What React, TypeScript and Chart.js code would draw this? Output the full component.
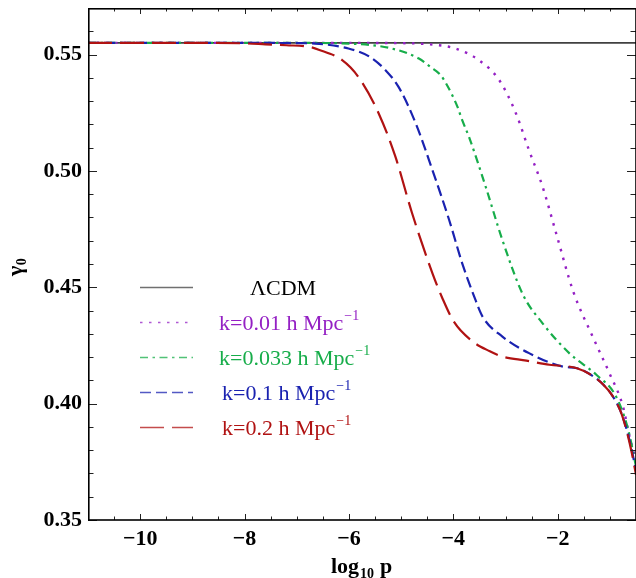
import React, { useEffect, useRef } from "react";
import { Chart, registerables } from "chart.js";

Chart.register(...registerables);

// ---- data ----
const xLCDM = [-11, -0.5];
const yLCDM = [0.555, 0.555];

const xK001 = [-11, -6, -5, -4.47, -3.96, -3.51, -3.12, -2.8, -2.55, -2.29, -2.03, -1.7, -1.33, -1.01, -0.75, -0.61, -0.5];
const yK001 = [0.555, 0.555, 0.5549, 0.5544, 0.5526, 0.5476, 0.539, 0.5247, 0.5089, 0.4932, 0.4732, 0.448, 0.4288, 0.4131, 0.3988, 0.3845, 0.376];

const xK0033 = [-11, -7, -6, -5.18, -4.66, -4.44, -4.24, -4.12, -4.02, -3.92, -3.83, -3.7, -3.38, -3.06, -2.67, -2.29, -1.78, -1.26, -0.88, -0.65, -0.5];
const yK0033 = [0.555, 0.555, 0.5547, 0.5526, 0.5483, 0.5447, 0.5411, 0.5368, 0.5325, 0.5275, 0.5218, 0.5146, 0.4932, 0.4703, 0.447, 0.4345, 0.4217, 0.4124, 0.403, 0.3888, 0.373];

const xK01 = [-11, -8, -7, -6.65, -6.01, -5.6, -5.3, -5.05, -4.72, -4.4, -4.08, -3.83, -3.6, -3.44, -3.06, -2.55, -1.9, -1.63, -1.31, -1.12, -0.96, -0.8, -0.7, -0.58, -0.5];
const yK01 = [0.555, 0.555, 0.5549, 0.5547, 0.5526, 0.549, 0.5433, 0.5361, 0.5204, 0.5003, 0.4789, 0.4603, 0.446, 0.4374, 0.4288, 0.4217, 0.4159, 0.4152, 0.4116, 0.408, 0.4037, 0.397, 0.3905, 0.38, 0.371];

const xK02 = [-11, -9, -8, -7.6, -7.2, -6.76, -6.58, -6.13, -5.82, -5.43, -5.11, -4.79, -4.4, -4.21, -3.99, -3.63, -3.3, -3.06, -2.6, -2.16, -1.63, -1.31, -1.12, -0.96, -0.8, -0.7, -0.58, -0.5];
const yK02 = [0.555, 0.555, 0.5548, 0.5544, 0.554, 0.5533, 0.5521, 0.5476, 0.5404, 0.5247, 0.5061, 0.4818, 0.456, 0.4453, 0.4352, 0.4267, 0.4225, 0.4202, 0.4185, 0.4167, 0.4152, 0.4116, 0.408, 0.4037, 0.397, 0.39, 0.3788, 0.3694];

const legendMain = ["\u039BCDM", "k=0.01 h Mpc", "k=0.033 h Mpc", "k=0.1 h Mpc", "k=0.2 h Mpc"];
const legendSup = ["", "\u22121", "\u22121", "\u22121", "\u22121"];

const X_MIN = -11;
const X_MAX = -0.5;
const Y_MIN = 0.35;
const Y_MAX = 0.57;

const SERIF = "'Liberation Serif', 'Times New Roman', serif";

const toPts = (xs: number[], ys: number[]) => xs.map((x, i) => ({ x, y: ys[i] }));

const isMajorX = (v: number) => Math.round(v * 2) % 4 === 0;
const isMajorY = (v: number) => Math.round(v * 100) % 5 === 0;

const decorPlugin = {
  id: "decor",
  afterDraw(chart: any) {
    const { ctx, chartArea: a, scales } = chart;
    const xs = scales.x;
    const ys = scales.y;
    ctx.save();
    // ticks (inside, mirrored on all sides)
    ctx.strokeStyle = "#222";
    ctx.lineWidth = 1;
    ctx.beginPath();
    xs.ticks.forEach((t: any) => {
      const px = Math.round(xs.getPixelForValue(t.value)) + 0.5;
      const len = isMajorX(t.value) ? 6 : 3.5;
      ctx.moveTo(px, a.bottom);
      ctx.lineTo(px, a.bottom - len);
      ctx.moveTo(px, a.top);
      ctx.lineTo(px, a.top + len);
    });
    ys.ticks.forEach((t: any) => {
      const py = Math.round(ys.getPixelForValue(t.value)) + 0.5;
      const len = isMajorY(t.value) ? 9 : 5.5;
      ctx.moveTo(a.left, py);
      ctx.lineTo(a.left + len, py);
      ctx.moveTo(a.right, py);
      ctx.lineTo(a.right - len, py);
    });
    ctx.stroke();
    // frame
    ctx.strokeStyle = "#000";
    ctx.lineWidth = 1.6;
    ctx.strokeRect(a.left + 0.8, a.top + 0.8, a.right - a.left - 0.8, a.bottom - a.top - 0.8);

    // legend
    const rows = chart.data.datasets;
    const textX = [250, 219, 219, 222, 222];
    rows.forEach((ds: any, i: number) => {
      const y = 287.5 + 35 * i;
      ctx.save();
      ctx.strokeStyle = ds.borderColor;
      ctx.globalAlpha = 0.75;
      ctx.lineWidth = 1.6;
      ctx.setLineDash(ds.borderDash || []);
      ctx.beginPath();
      ctx.moveTo(140, y);
      ctx.lineTo(193, y);
      ctx.stroke();
      ctx.restore();
      ctx.fillStyle = i === 0 ? "#000" : ds.borderColor;
      ctx.font = `22px ${SERIF}`;
      ctx.textBaseline = "alphabetic";
      ctx.textAlign = "left";
      ctx.fillText(legendMain[i], textX[i], y + 7.5);
      if (legendSup[i]) {
        const w = ctx.measureText(legendMain[i]).width;
        ctx.font = `14px ${SERIF}`;
        ctx.fillText(legendSup[i], textX[i] + w + 1, y - 2.5);
      }
    });

    // x axis title: log10 p
    ctx.fillStyle = "#000";
    ctx.textAlign = "left";
    ctx.textBaseline = "alphabetic";
    ctx.font = `bold 22px ${SERIF}`;
    let tx = 331;
    ctx.fillText("log", tx, 573);
    tx += ctx.measureText("log").width + 1;
    ctx.font = `bold 14px ${SERIF}`;
    ctx.fillText("10", tx, 578);
    tx += ctx.measureText("10").width + 6;
    ctx.font = `bold 22px ${SERIF}`;
    ctx.fillText("p", tx, 573);

    // y axis title: gamma_0 (rotated)
    ctx.save();
    ctx.translate(22, 276);
    ctx.rotate(-Math.PI / 2);
    ctx.font = `bold 22px ${SERIF}`;
    ctx.fillText("\u03B3", 0, 0);
    const gw = ctx.measureText("\u03B3").width;
    ctx.font = `bold 14px ${SERIF}`;
    ctx.fillText("0", gw + 0.5, 4);
    ctx.restore();

    ctx.restore();
  },
};

export default function App() {
  const ref = useRef<HTMLCanvasElement | null>(null);

  useEffect(() => {
    document.body.style.margin = "0";
    const canvas = ref.current;
    if (!canvas) return;
    const common = { pointRadius: 0, pointHoverRadius: 0, fill: false, cubicInterpolationMode: "monotone" as const, borderCapStyle: "butt" as const };
    const chart = new Chart(canvas, {
      type: "line",
      data: {
        datasets: [
          { ...common, label: "LCDM", data: toPts(xLCDM, yLCDM), borderColor: "#404040", borderWidth: 1.7, borderDash: [], order: 5 },
          { ...common, label: "k=0.01", data: toPts(xK001, yK001), borderColor: "#9420c4", borderWidth: 2.4, borderDash: [2.5, 6.5], order: 4 },
          { ...common, label: "k=0.033", data: toPts(xK0033, yK0033), borderColor: "#17ad4a", borderWidth: 2.2, borderDash: [8, 4.5, 2.5, 4.5], order: 3 },
          { ...common, label: "k=0.1", data: toPts(xK01, yK01), borderColor: "#1a22b0", borderWidth: 2.2, borderDash: [11, 5], order: 2 },
          { ...common, label: "k=0.2", data: toPts(xK02, yK02), borderColor: "#b01212", borderWidth: 2.2, borderDash: [24, 8], order: 1 },
        ] as any,
      },
      options: {
        animation: false,
        responsive: false,
        maintainAspectRatio: false,
        layout: { padding: { top: 8, right: 0, left: 0, bottom: 0 } },
        plugins: { legend: { display: false }, tooltip: { enabled: false } },
        scales: {
          x: {
            type: "linear",
            min: X_MIN,
            max: X_MAX,
            grid: { display: false, drawTicks: false },
            border: { display: false },
            ticks: {
              stepSize: 0.5,
              autoSkip: false,
              maxRotation: 0,
              padding: 6,
              color: "#000",
              font: { family: SERIF, size: 22, weight: "bold" },
              callback: (v: any) => {
                const n = Number(v);
                if (!isMajorX(n)) return "";
                const h = Math.round(n * 2) / 2;
                return h < 0 ? "\u2212" + Math.abs(h) : String(h);
              },
            },
            afterFit: (s: any) => {
              s.height = 58;
              s.paddingLeft = 0;
              s.paddingRight = 0;
            },
          },
          y: {
            type: "linear",
            min: Y_MIN,
            max: Y_MAX,
            grid: { display: false, drawTicks: false },
            border: { display: false },
            ticks: {
              stepSize: 0.01,
              autoSkip: false,
              padding: 6,
              color: "#000",
              font: { family: SERIF, size: 22, weight: "bold" },
              callback: (v: any) => {
                const n = Number(v);
                if (!isMajorY(n)) return "";
                return (Math.round(n * 100) / 100).toFixed(2);
              },
            },
            afterFit: (s: any) => {
              s.width = 88;
              s.paddingTop = 0;
              s.paddingBottom = 0;
            },
          },
        },
      } as any,
      plugins: [decorPlugin],
    });
    return () => chart.destroy();
  }, []);

  return (
    <div style={{ width: 636, height: 578, background: "#fff" }}>
      <canvas ref={ref} width={636} height={578} style={{ display: "block" }} />
    </div>
  );
}
